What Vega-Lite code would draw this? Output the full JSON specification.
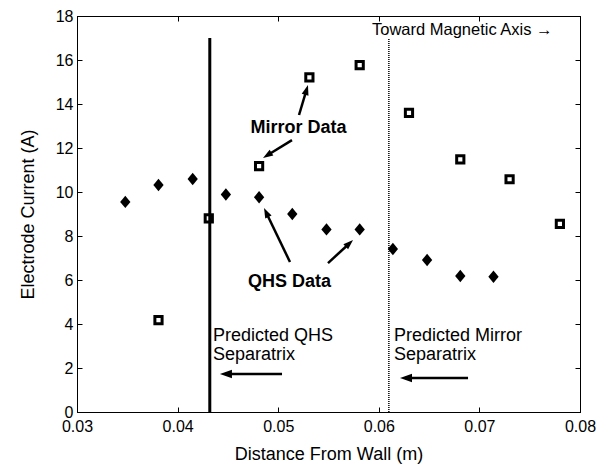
{
  "$schema": "https://vega.github.io/schema/vega-lite/v6.json",
  "width": 503,
  "height": 396,
  "autosize": {"type": "none"},
  "padding": {"left": 77, "top": 16, "right": 24, "bottom": 52},
  "background": "white",
  "config": {
    "font": "Liberation Sans",
    "view": {"stroke": "black", "strokeWidth": 1},
    "axis": {
      "grid": false,
      "domainColor": "black",
      "tickColor": "black",
      "labelColor": "black",
      "titleColor": "black",
      "labelFont": "Liberation Sans",
      "titleFont": "Liberation Sans",
      "labelFontSize": 16,
      "titleFontSize": 18,
      "titleFontWeight": "normal",
      "tickSize": -5,
      "tickWidth": 1,
      "domainWidth": 1,
      "labelFlush": false,
      "labelOverlap": false
    }
  },
  "datasets": {
    "qhs": [
      {"distance": 0.0348, "current": 9.55},
      {"distance": 0.0381, "current": 10.32},
      {"distance": 0.0415, "current": 10.59},
      {"distance": 0.0448, "current": 9.89},
      {"distance": 0.0481, "current": 9.76},
      {"distance": 0.0514, "current": 9.0},
      {"distance": 0.0548, "current": 8.3},
      {"distance": 0.0581, "current": 8.3},
      {"distance": 0.0614, "current": 7.41},
      {"distance": 0.0648, "current": 6.91},
      {"distance": 0.0681, "current": 6.18},
      {"distance": 0.0714, "current": 6.15}
    ],
    "mirror": [
      {"distance": 0.0381, "current": 4.18},
      {"distance": 0.0431, "current": 8.8},
      {"distance": 0.0481, "current": 11.18},
      {"distance": 0.0531, "current": 15.21},
      {"distance": 0.0581, "current": 15.77},
      {"distance": 0.063, "current": 13.6},
      {"distance": 0.0681, "current": 11.48},
      {"distance": 0.073, "current": 10.58},
      {"distance": 0.078, "current": 8.55}
    ],
    "separatrix": [
      {"name": "QHS", "distance": 0.0432, "lo": 0, "hi": 17},
      {"name": "Mirror", "distance": 0.061, "lo": 0, "hi": 17}
    ],
    "arrows": [
      {"kind": "pointer", "x_start": 0.05207, "y_start": 13.5, "x_end": 0.05282, "y_end": 14.65, "x_tip": 0.05296, "y_tip": 14.86, "angle": 16.7},
      {"kind": "pointer", "x_start": 0.05137, "y_start": 12.36, "x_end": 0.04892, "y_end": 11.67, "x_tip": 0.04849, "y_tip": 11.55, "angle": 238},
      {"kind": "pointer", "x_start": 0.05117, "y_start": 6.82, "x_end": 0.0488, "y_end": 9.07, "x_tip": 0.04859, "y_tip": 9.27, "angle": 334},
      {"kind": "pointer", "x_start": 0.05495, "y_start": 6.77, "x_end": 0.05707, "y_end": 7.66, "x_tip": 0.05744, "y_tip": 7.82, "angle": 47},
      {"kind": "separatrix", "x_start": 0.05038, "y_start": 1.727, "x_end": 0.04471, "y_end": 1.727, "x_tip": 0.04421, "y_tip": 1.727, "angle": 270},
      {"kind": "separatrix", "x_start": 0.06887, "y_start": 1.545, "x_end": 0.0626, "y_end": 1.545, "x_tip": 0.06211, "y_tip": 1.545, "angle": 270}
    ],
    "texts": [
      {"group": "bold", "label": "Mirror Data", "x": 0.05202, "y": 12.68},
      {"group": "bold", "label": "QHS Data", "x": 0.05112, "y": 5.68},
      {"group": "plain", "label": "Predicted QHS", "x": 0.04352, "y": 3.25},
      {"group": "plain", "label": "Separatrix", "x": 0.04352, "y": 2.35},
      {"group": "plain", "label": "Predicted Mirror", "x": 0.06151, "y": 3.25},
      {"group": "plain", "label": "Separatrix", "x": 0.06151, "y": 2.35},
      {"group": "top", "label": "Toward Magnetic Axis →", "x": 0.05932, "y": 17.14}
    ]
  },
  "resolve": {"axis": {"x": "independent", "y": "independent"}},
  "layer": [
    {
      "data": {"name": "separatrix"},
      "transform": [{"filter": "datum.name === 'QHS'"}],
      "mark": {"type": "rule", "color": "black", "strokeWidth": 3},
      "encoding": {
        "x": {"field": "distance", "type": "quantitative", "scale": {"domain": [0.03, 0.08], "nice": false, "zero": false}, "axis": null},
        "y": {"field": "lo", "type": "quantitative", "scale": {"domain": [0, 18], "nice": false}, "axis": null},
        "y2": {"field": "hi"}
      }
    },
    {
      "data": {"name": "separatrix"},
      "transform": [{"filter": "datum.name === 'Mirror'"}],
      "mark": {"type": "rule", "color": "black", "strokeWidth": 1.5, "strokeDash": [1, 1]},
      "encoding": {
        "x": {"field": "distance", "type": "quantitative", "axis": null},
        "y": {"field": "lo", "type": "quantitative", "axis": null},
        "y2": {"field": "hi"}
      }
    },
    {
      "data": {"name": "qhs"},
      "mark": {"type": "point", "shape": "M0,-1L0.83,0L0,1L-0.83,0Z", "filled": true, "color": "black", "opacity": 1, "size": 154},
      "encoding": {
        "x": {
          "field": "distance", "type": "quantitative",
          "axis": {"orient": "bottom", "values": [0.03, 0.04, 0.05, 0.06, 0.07, 0.08], "format": ".2f", "title": "Distance From Wall (m)", "labelPadding": 11, "titleY": 47, "titleBaseline": "alphabetic"}
        },
        "y": {
          "field": "current", "type": "quantitative",
          "axis": {"orient": "left", "values": [0, 2, 4, 6, 8, 10, 12, 14, 16, 18], "title": "Electrode Current (A)", "labelPadding": 9, "titleX": -44, "titleY": 198, "titleAngle": -90, "titleBaseline": "alphabetic"}
        }
      }
    },
    {
      "data": {"name": "mirror"},
      "mark": {"type": "point", "shape": "square", "filled": false, "color": "black", "opacity": 1, "strokeWidth": 3, "size": 52},
      "encoding": {
        "x": {
          "field": "distance", "type": "quantitative",
          "axis": {"orient": "top", "values": [0.03, 0.04, 0.05, 0.06, 0.07, 0.08], "labels": false, "title": null}
        },
        "y": {
          "field": "current", "type": "quantitative",
          "axis": {"orient": "right", "values": [0, 2, 4, 6, 8, 10, 12, 14, 16, 18], "labels": false, "title": null}
        }
      }
    },
    {
      "data": {"name": "arrows"},
      "mark": {"type": "rule", "color": "black", "strokeWidth": 2.5},
      "encoding": {
        "x": {"field": "x_start", "type": "quantitative", "axis": null},
        "y": {"field": "y_start", "type": "quantitative", "axis": null},
        "x2": {"field": "x_end"},
        "y2": {"field": "y_end"}
      }
    },
    {
      "data": {"name": "arrows"},
      "transform": [{"filter": "datum.kind === 'pointer'"}],
      "mark": {"type": "point", "shape": "M0,0L-0.35,1L0.35,1Z", "filled": true, "color": "black", "opacity": 1, "size": 400},
      "encoding": {
        "x": {"field": "x_tip", "type": "quantitative", "axis": null},
        "y": {"field": "y_tip", "type": "quantitative", "axis": null},
        "angle": {"field": "angle", "type": "quantitative", "scale": null}
      }
    },
    {
      "data": {"name": "arrows"},
      "transform": [{"filter": "datum.kind === 'separatrix'"}],
      "mark": {"type": "point", "shape": "M0,0L-0.35,1L0.35,1Z", "filled": true, "color": "black", "opacity": 1, "size": 576},
      "encoding": {
        "x": {"field": "x_tip", "type": "quantitative", "axis": null},
        "y": {"field": "y_tip", "type": "quantitative", "axis": null},
        "angle": {"field": "angle", "type": "quantitative", "scale": null}
      }
    },
    {
      "data": {"name": "texts"},
      "transform": [{"filter": "datum.group === 'bold'"}],
      "mark": {"type": "text", "font": "Liberation Sans", "fontSize": 18, "fontWeight": "bold", "align": "center", "baseline": "alphabetic", "color": "black"},
      "encoding": {
        "x": {"field": "x", "type": "quantitative", "axis": null},
        "y": {"field": "y", "type": "quantitative", "axis": null},
        "text": {"field": "label"}
      }
    },
    {
      "data": {"name": "texts"},
      "transform": [{"filter": "datum.group === 'plain'"}],
      "mark": {"type": "text", "font": "Liberation Sans", "fontSize": 18, "align": "left", "baseline": "alphabetic", "color": "black"},
      "encoding": {
        "x": {"field": "x", "type": "quantitative", "axis": null},
        "y": {"field": "y", "type": "quantitative", "axis": null},
        "text": {"field": "label"}
      }
    },
    {
      "data": {"name": "texts"},
      "transform": [{"filter": "datum.group === 'top'"}],
      "mark": {"type": "text", "font": "Liberation Sans", "fontSize": 16.5, "align": "left", "baseline": "alphabetic", "color": "black"},
      "encoding": {
        "x": {"field": "x", "type": "quantitative", "axis": null},
        "y": {"field": "y", "type": "quantitative", "axis": null},
        "text": {"field": "label"}
      }
    }
  ]
}
